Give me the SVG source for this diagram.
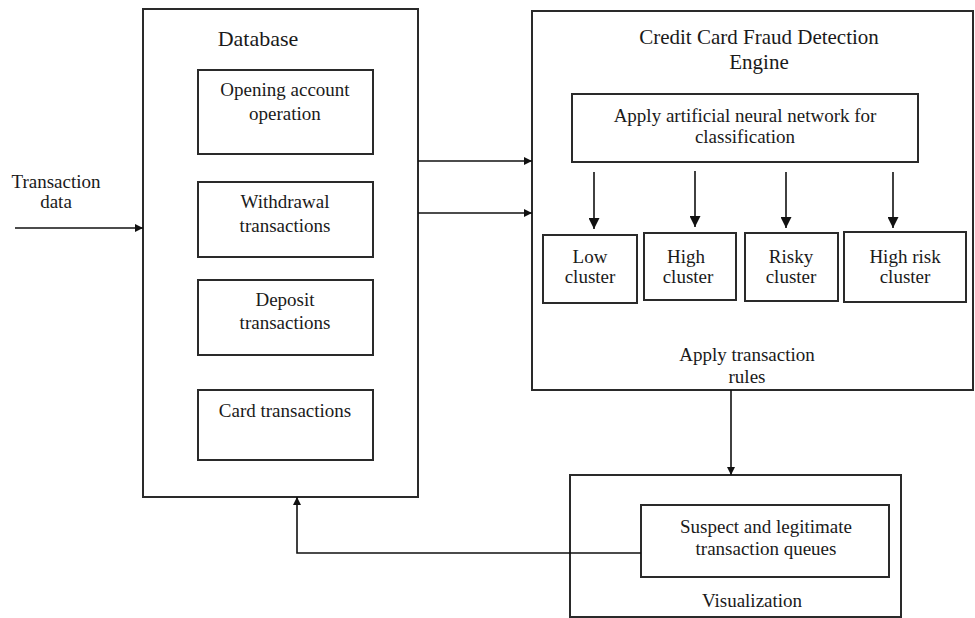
<svg xmlns="http://www.w3.org/2000/svg" width="975" height="618" viewBox="0 0 975 618">
<style>
.box{fill:none;stroke:#2a2a2a;stroke-width:2}
.t{font-family:"Liberation Serif","Times New Roman",serif;font-size:19px;fill:#1a1a1a;text-anchor:middle}
.big{font-size:21px}
.c{stroke:#111;stroke-width:1.6;fill:none}
</style>
<defs>
<marker id="ah" viewBox="0 0 10 10" refX="10" refY="5" markerWidth="8" markerHeight="8" markerUnits="userSpaceOnUse" orient="auto">
<path d="M0,0 L10,5 L0,10 z" fill="#111"/>
</marker>
<marker id="ahb" viewBox="0 0 10 10" refX="10" refY="5" markerWidth="11" markerHeight="11" markerUnits="userSpaceOnUse" orient="auto">
<path d="M0,0 L10,5 L0,10 z" fill="#111"/>
</marker>
</defs>
<rect width="975" height="618" fill="#fff"/>

<g id="database">
<rect class="box" x="143" y="9" width="275" height="488"/>
<text class="t" x="258" y="46" style="font-size:22px">Database</text>
</g>
<g id="opening">
<rect class="box" x="198" y="70" width="175" height="84"/>
<text class="t" x="285" y="96">Opening account</text>
<text class="t" x="285" y="120">operation</text>
</g>
<g id="withdrawal">
<rect class="box" x="198" y="182" width="175" height="75"/>
<text class="t" x="285" y="208">Withdrawal</text>
<text class="t" x="285" y="232">transactions</text>
</g>
<g id="deposit">
<rect class="box" x="198" y="280" width="175" height="75"/>
<text class="t" x="285" y="306">Deposit</text>
<text class="t" x="285" y="329">transactions</text>
</g>
<g id="card">
<rect class="box" x="198" y="390" width="175" height="70"/>
<text class="t" x="285" y="417">Card transactions</text>
</g>

<g id="txdata">
<text class="t" x="56" y="188">Transaction</text>
<text class="t" x="56" y="208">data</text>
</g>

<g id="engine">
<rect class="box" x="532" y="11" width="441" height="379"/>
<text class="t big" x="759" y="44">Credit Card Fraud Detection</text>
<text class="t big" x="759" y="69">Engine</text>
<text class="t" x="747" y="361">Apply transaction</text>
<text class="t" x="747" y="383">rules</text>
</g>
<g id="ann">
<rect class="box" x="572" y="94" width="346" height="68"/>
<text class="t" x="745" y="122">Apply artificial neural network for</text>
<text class="t" x="745" y="143">classification</text>
</g>
<g id="low">
<rect class="box" x="543" y="235" width="94" height="68"/>
<text class="t" x="590" y="263">Low</text>
<text class="t" x="590" y="283">cluster</text>
</g>
<g id="high">
<rect class="box" x="644" y="233" width="92" height="67"/>
<text class="t" x="686" y="263">High</text>
<text class="t" x="688" y="283">cluster</text>
</g>
<g id="risky">
<rect class="box" x="745" y="233" width="93" height="68"/>
<text class="t" x="791" y="263">Risky</text>
<text class="t" x="791" y="283">cluster</text>
</g>
<g id="highrisk">
<rect class="box" x="844" y="232" width="122" height="70"/>
<text class="t" x="905" y="263">High risk</text>
<text class="t" x="905" y="283">cluster</text>
</g>

<g id="visualization">
<rect class="box" x="570" y="475" width="331" height="142"/>
<text class="t" x="752" y="607">Visualization</text>
</g>
<g id="queues">
<rect class="box" x="641" y="505" width="248" height="72"/>
<text class="t" x="766" y="533">Suspect and legitimate</text>
<text class="t" x="766" y="555">transaction queues</text>
</g>

<g id="connectors">
<line class="c" x1="15" y1="228" x2="143" y2="228" marker-end="url(#ah)"/>
<line class="c" x1="418" y1="161" x2="532" y2="161" marker-end="url(#ah)"/>
<line class="c" x1="418" y1="213" x2="532" y2="213" marker-end="url(#ah)"/>
<line class="c" x1="594" y1="172" x2="594" y2="229" marker-end="url(#ahb)"/>
<line class="c" x1="695" y1="171" x2="695" y2="227" marker-end="url(#ahb)"/>
<line class="c" x1="786" y1="172" x2="786" y2="228" marker-end="url(#ahb)"/>
<line class="c" x1="893" y1="172" x2="893" y2="228" marker-end="url(#ahb)"/>
<line class="c" x1="731" y1="390" x2="731" y2="475" marker-end="url(#ah)"/>
<polyline class="c" points="641,553 297,553 297,497" marker-end="url(#ah)"/>
</g>
</svg>
